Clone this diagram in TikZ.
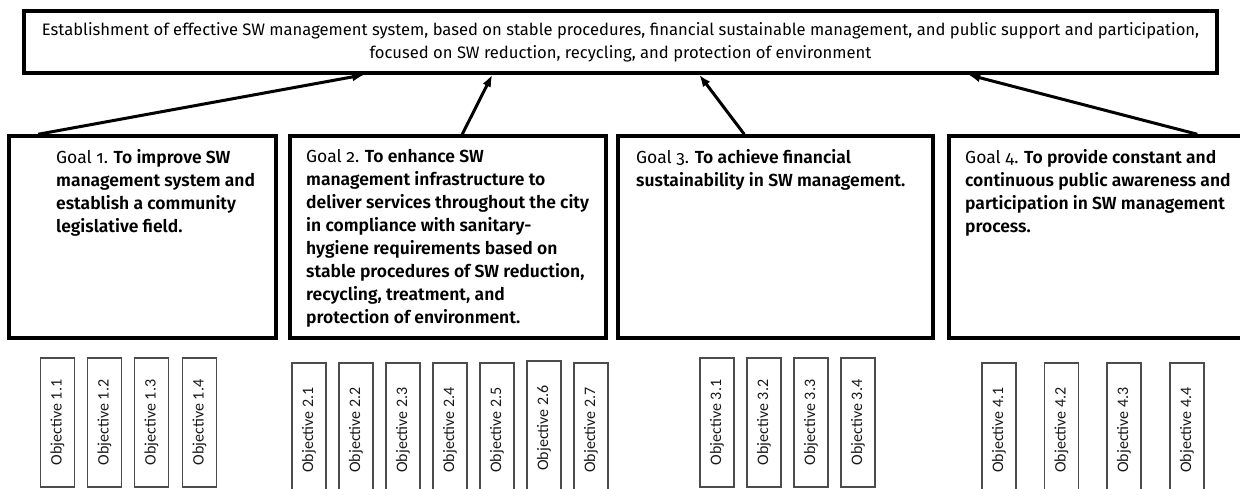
\documentclass[tikz,border=0pt]{standalone}
\usepackage{fontspec}
\setmainfont{Fira Sans}[Numbers=OldStyle, BoldFont={Fira Sans SemiBold}]
\newfontfamily\objfont{Carlito}
\usetikzlibrary{arrows.meta}

\begin{document}
\begin{tikzpicture}[
    x=1pt,
    y=-1pt,
    vision/.style={rectangle, draw, line width=3.5pt, minimum width=1193pt, minimum height=62pt, inner sep=0pt, align=center, font=\fontsize{16.6}{23}\selectfont},
    goal/.style={rectangle, draw, line width=3.5pt, minimum height=202pt, inner sep=0pt},
    goaltext/.style={anchor=north west, inner sep=0pt, align=left, font=\fontsize{17.5}{23}\selectfont\bfseries},
    obj/.style={rectangle, draw=black!70, line width=1.1pt, rotate=90, minimum height=34pt, inner sep=0pt, text=black!90, font=\objfont\fontsize{16}{18}\selectfont},
    obja/.style={obj, minimum width=129pt},
    objb/.style={obj, minimum width=134pt},
    arrow/.style={-{Latex[length=12pt,width=9pt]}, line width=3pt}
]
\clip (0,0) rectangle (1240,489);

% Overall aim
\node[vision] (vision) at (620.5,42) {Establishment of effective SW management system, based on stable procedures, financial sustainable management, and public support and participation,\\focused on SW reduction, recycling, and protection of environment};

% Goals
\node[goal, minimum width=267pt] (goal1) at (142.5,237) {};
\node[goal, minimum width=316pt] (goal2) at (448,237) {};
\node[goal, minimum width=315pt] (goal3) at (775.5,237) {};
\node[goal, minimum width=311pt] (goal4) at (1104.5,237) {};

\node[goaltext] (goal1txt) at (56,149) {{\mdseries Goal 1.} To improve SW\\management system and\\establish a community\\legislative field.};
\node[goaltext] (goal2txt) at (306,149) {{\mdseries Goal 2.} To enhance SW\\management infrastructure to\\deliver services throughout the city\\in compliance with sanitary-\\hygiene requirements based on\\stable procedures of SW reduction,\\recycling, treatment, and\\protection of environment.};
\node[goaltext] (goal3txt) at (636,149) {{\mdseries Goal 3.} To achieve financial\\sustainability in SW management.};
\node[goaltext] (goal4txt) at (965,149) {{\mdseries Goal 4.} To provide constant and\\continuous public awareness and\\participation in SW management\\process.};

% Goals feed the aim
\draw[arrow] ([xshift=31pt]goal1.north west) -- ([xshift=342pt]vision.south west);
\draw[arrow] ([xshift=174pt]goal2.north west) -- ([xshift=470pt]vision.south west);
\draw[arrow] ([xshift=128pt]goal3.north west) -- ([xshift=677pt]vision.south west);
\draw[arrow] ([xshift=250pt]goal4.north west) -- ([xshift=946pt]vision.south west);

% Objectives of goal 1
\node[obja] (obj11) at (57.5,422.5) {Objective 1.1};
\node[obja] (obj12) at (104.5,422.5) {Objective 1.2};
\node[obja] (obj13) at (151.5,422.5) {Objective 1.3};
\node[obja] (obj14) at (199.5,422.5) {Objective 1.4};

% Objectives of goal 2
\node[objb] (obj21) at (309,430) {Objective 2.1};
\node[objb] (obj22) at (356,430) {Objective 2.2};
\node[objb] (obj23) at (403,430) {Objective 2.3};
\node[objb] (obj24) at (450,430) {Objective 2.4};
\node[objb] (obj25) at (497,430) {Objective 2.5};
\node[objb] (obj26) at (544,428) {Objective 2.6};
\node[objb] (obj27) at (591,430) {Objective 2.7};

% Objectives of goal 3
\node[obja] (obj31) at (717,422.5) {Objective 3.1};
\node[obja] (obj32) at (764,422.5) {Objective 3.2};
\node[obja] (obj33) at (811,422.5) {Objective 3.3};
\node[obja] (obj34) at (858,422.5) {Objective 3.4};

% Objectives of goal 4
\node[objb] (obj41) at (999,430) {Objective 4.1};
\node[objb] (obj42) at (1061.5,430) {Objective 4.2};
\node[objb] (obj43) at (1124,430) {Objective 4.3};
\node[objb] (obj44) at (1187,430) {Objective 4.4};

\end{tikzpicture}
\end{document}
